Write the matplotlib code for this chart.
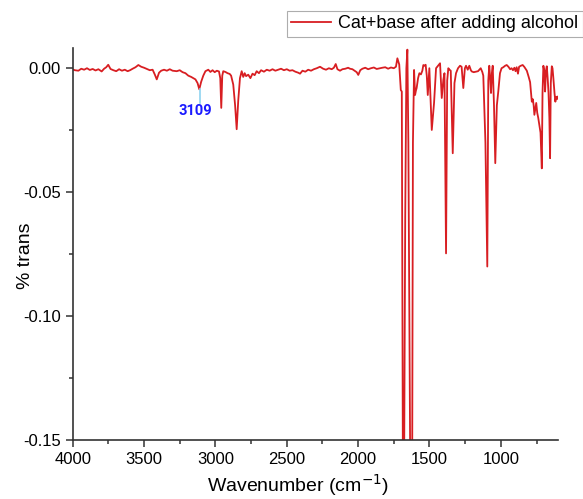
import matplotlib
matplotlib.use("Agg")
import matplotlib.pyplot as plt
from matplotlib.ticker import MultipleLocator, FormatStrFormatter

plt.rcParams['font.family'] = ['Liberation Sans', 'DejaVu Sans']

# wavenumber (cm-1) and signal
wavenumber = [
    4000, 3985, 3960, 3940, 3920, 3900, 3880, 3860, 3840, 3820, 3797, 3780,
    3765, 3751, 3735, 3715, 3695, 3675, 3655, 3635, 3615, 3598, 3580, 3560,
    3540, 3520, 3500, 3480, 3460, 3440, 3425, 3411, 3395, 3380, 3360, 3340,
    3320, 3300, 3271, 3250, 3230, 3210, 3190, 3170, 3155, 3140, 3125, 3113,
    3100, 3085, 3070, 3050, 3035, 3020, 3005, 2990, 2975, 2966, 2959, 2952,
    2945, 2930, 2915, 2900, 2890, 2875, 2862, 2851, 2840, 2828, 2816, 2805,
    2795, 2785, 2770, 2755, 2740, 2725, 2711, 2695, 2680, 2660, 2640, 2620,
    2600, 2580, 2560, 2540, 2520, 2500, 2480, 2460, 2440, 2420, 2407, 2390,
    2370, 2350, 2330, 2310, 2290, 2267, 2245, 2225, 2205, 2185, 2170, 2157,
    2145, 2127, 2110, 2090, 2070, 2057, 2040, 2025, 2010, 1999, 1985, 1970,
    1950, 1930, 1910, 1890, 1870, 1847, 1830, 1810, 1790, 1770, 1750, 1735,
    1725, 1712, 1701, 1694, 1683, 1670, 1662, 1655, 1648, 1636, 1624, 1616,
    1608, 1601, 1595, 1590, 1580, 1571, 1560, 1550, 1543, 1535, 1527, 1519,
    1512, 1501, 1484, 1468, 1454, 1440, 1426, 1414, 1403, 1395, 1384, 1376,
    1368, 1360, 1351, 1337, 1325, 1314, 1300, 1286, 1275, 1263, 1252, 1244,
    1232, 1221, 1210, 1204, 1190, 1175, 1160, 1141, 1130, 1123, 1108, 1095,
    1088, 1081, 1075, 1069, 1063, 1057, 1048, 1039, 1028, 1018, 1006, 995,
    983, 970, 959, 947, 935, 925, 915, 905, 897, 889, 880, 872, 860, 847,
    835, 818, 805, 795, 788, 783, 776, 770, 765, 760, 752, 745, 738, 730,
    722, 713, 708, 702, 696, 690, 684, 678, 672, 666, 660, 655, 650, 643,
    638, 632, 624, 618, 613, 607, 601,
]
signal = [
    -0.0005, -0.0008, -0.0010, -0.0002, -0.0006, 0.0000, -0.0007, -0.0003, -0.0009, -0.0004, -0.0013, -0.0002,
    0.0004, 0.0014, -0.0003, -0.0008, -0.0012, -0.0004, -0.0010, -0.0006, -0.0012, -0.0008, -0.0002, 0.0004,
    0.0013, 0.0006, 0.0002, -0.0003, -0.0008, -0.0006, -0.0025, -0.0045, -0.0018, -0.0010, -0.0006, -0.0010,
    -0.0004, -0.0010, -0.0012, -0.0008, -0.0016, -0.0020, -0.0030, -0.0035, -0.0040, -0.0045, -0.0060, -0.0085,
    -0.0055, -0.0030, -0.0012, -0.0006, -0.0015, -0.0008, -0.0016, -0.0010, -0.0013, -0.0040, -0.0160, -0.0030,
    -0.0012, -0.0015, -0.0020, -0.0023, -0.0030, -0.0066, -0.0150, -0.0246, -0.0130, -0.0040, -0.0012, -0.0035,
    -0.0020, -0.0032, -0.0026, -0.0040, -0.0022, -0.0028, -0.0012, -0.0020, -0.0008, -0.0014, -0.0006, -0.0010,
    -0.0004, -0.0010, -0.0006, -0.0002, -0.0008, -0.0004, -0.0010, -0.0008, -0.0014, -0.0018, -0.0022, -0.0010,
    -0.0014, -0.0006, -0.0010, -0.0004, 0.0000, 0.0006, -0.0002, -0.0006, 0.0000, -0.0004, 0.0002, 0.0017,
    -0.0004, -0.0010, -0.0004, -0.0002, 0.0002, -0.0002, -0.0004, -0.0010, -0.0016, -0.0027, -0.0008, -0.0002,
    0.0002, -0.0004, 0.0000, 0.0003, -0.0003, 0.0000, 0.0002, 0.0004, -0.0002, 0.0003, 0.0000, 0.0006,
    0.0040, 0.0015, -0.0088, -0.0094, -0.2300, -0.0600, 0.0000, 0.0075, -0.0300, -0.1500, -0.2300, -0.0300,
    -0.0007, -0.0108, -0.0090, -0.0080, -0.0040, -0.0020, -0.0025, -0.0010, 0.0013, 0.0010, 0.0014, -0.0030,
    -0.0108, 0.0000, -0.0249, -0.0140, 0.0000, 0.0010, 0.0020, -0.0120, -0.0047, -0.0020, -0.0747, -0.0050,
    0.0000, -0.0006, -0.0010, -0.0343, -0.0060, -0.0020, 0.0000, 0.0010, 0.0006, -0.0080, 0.0000, 0.0010,
    -0.0006, 0.0010, -0.0008, -0.0013, -0.0016, -0.0014, -0.0012, 0.0000, -0.0015, -0.0030, -0.0300, -0.0800,
    -0.0050, 0.0010, -0.0040, -0.0100, -0.0020, 0.0010, -0.0150, -0.0383, -0.0150, -0.0094, -0.0020, 0.0000,
    0.0004, 0.0010, 0.0013, 0.0006, -0.0004, 0.0000, -0.0008, 0.0002, -0.0012, 0.0004, -0.0022, 0.0006, 0.0010, 0.0013,
    0.0005, -0.0010, -0.0035, -0.0056, -0.0100, -0.0135, -0.0125, -0.0150, -0.0188, -0.0170, -0.0140, -0.0180, -0.0200, -0.0230,
    -0.0260, -0.0404, -0.0100, 0.0010, -0.0010, -0.0094, -0.0010, 0.0008, -0.0040, -0.0098, -0.0200, -0.0363, -0.0060, 0.0008,
    0.0000, -0.0040, -0.0100, -0.0135, -0.0115, -0.0125, -0.0115,
]

peak_label = "3109"
peak_x = 3109
peak_y = -0.0085

fig = plt.figure(figsize=(5.83, 4.99), dpi=100)
ax = fig.add_axes([0.1247, 0.1182, 0.8323, 0.7858])

ax.plot(wavenumber, signal, color='#d81e22', lw=1.3, label='Cat+base after adding alcohol')

ax.plot([peak_x, peak_x], [peak_y, -0.0140], color='#8fd3f0', lw=1.2)
ax.text(peak_x + 30, -0.0143, peak_label, color='#1a1aff', fontsize=10.5,
        fontweight='bold', family=['Roboto', 'DejaVu Sans'], ha='center', va='top')

ax.set_xlim(4000, 600)
ax.set_ylim(-0.15, 0.0082)
ax.xaxis.set_major_locator(MultipleLocator(500))
ax.xaxis.set_minor_locator(MultipleLocator(250))
ax.yaxis.set_major_locator(MultipleLocator(0.05))
ax.yaxis.set_minor_locator(MultipleLocator(0.025))
ax.yaxis.set_major_formatter(FormatStrFormatter('%.2f'))
ax.tick_params(which='major', length=5, width=1.1, labelsize=12, color='#333333')
ax.tick_params(which='minor', length=3, width=1.1, color='#333333')
for s in ['top', 'right']:
    ax.spines[s].set_visible(False)
for s in ['left', 'bottom']:
    ax.spines[s].set_linewidth(1.2)
    ax.spines[s].set_color('#333333')

ax.set_xlabel('Wavenumber (cm$^{-1}$)', fontsize=14)
ax.xaxis.label.set_x(0.464)
ax.set_ylabel('% trans', fontsize=14)
ax.yaxis.set_label_coords(-0.080, 0.469)

leg = fig.legend(loc='upper right', bbox_to_anchor=(1.0, 0.978), fontsize=13,
                 frameon=True, fancybox=False, edgecolor='#999999',
                 handlelength=2.2, borderpad=0.25, handletextpad=0.4, borderaxespad=0)
leg.get_frame().set_linewidth(0.8)

fig.savefig('out.png', dpi=100)
